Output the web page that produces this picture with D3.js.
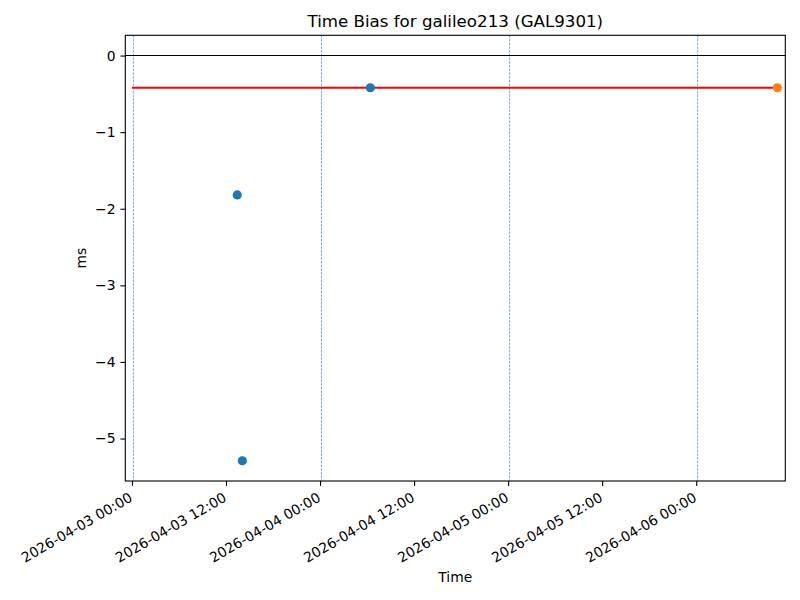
<!DOCTYPE html>
<html>
<head>
<meta charset="utf-8">
<script src="https://cdn.jsdelivr.net/npm/d3@7"></script>
<style>
  html, body { margin: 0; padding: 0; background: #fff; }
  svg { display: block; font-family: "DejaVu Sans", sans-serif; }
</style>
</head>
<body>
<svg id="chart" width="800" height="600"></svg>
<script>
// ---- data ----
const titleText = "Time Bias for galileo213 (GAL9301)";
const xLabel = "Time";
const yLabel = "ms";
const biasTimes = ["2026-04-03T13:26", "2026-04-03T14:05", "2026-04-04T06:25"];
const biasValues = [-1.82, -5.29, -0.42];
const latestTimes = ["2026-04-06T10:21"];
const latestValues = [-0.42];
const refLineTimes = ["2026-04-03T00:00", "2026-04-06T10:21"];
const refLineValue = -0.42;
const dayLineTimes = ["2026-04-03T00:11", "2026-04-04T00:11", "2026-04-05T00:11", "2026-04-06T00:11"];
const xTickTimes = ["2026-04-03T00:00", "2026-04-03T12:00", "2026-04-04T00:00", "2026-04-04T12:00",
                    "2026-04-05T00:00", "2026-04-05T12:00", "2026-04-06T00:00"];
const yTickValues = [0, -1, -2, -3, -4, -5];
const xDomainTimes = ["2026-04-02T23:09", "2026-04-06T11:22"];
const yDomainValues = [-5.5545, 0.2645];

// ---- setup ----
const parse = d3.utcParse("%Y-%m-%dT%H:%M");
const fmt = d3.utcFormat("%Y-%m-%d %H:%M");
const L = 125.3, R = 785.3, T = 35.3, B = 481;
const FONT = '"DejaVu Sans", sans-serif';
const svg = d3.select("#chart");
svg.append("rect").attr("width", 800).attr("height", 600).attr("fill", "#fff");

const x = d3.scaleUtc().domain(xDomainTimes.map(parse)).range([L, R]);
const y = d3.scaleLinear().domain(yDomainValues).range([B, T]);

const tickLen = 4.9, tickPad = 4.9, fs = 13.9;

// x axis
const xAxis = d3.axisBottom(x).tickValues(xTickTimes.map(parse)).tickFormat(fmt)
  .tickSize(tickLen).tickPadding(tickPad);
const gx = svg.append("g").attr("transform", `translate(0,${B})`).call(xAxis)
  .attr("font-family", FONT).attr("font-size", fs);
gx.select(".domain").remove();
gx.selectAll(".tick line").attr("stroke", "#000").attr("stroke-width", 1.1);
gx.selectAll(".tick text")
  .attr("font-size", fs).attr("fill", "#000")
  .attr("text-anchor", "end")
  .attr("dominant-baseline", "central")
  .attr("dy", null).attr("y", null)
  .attr("transform", "translate(-1.5,15) rotate(-30)");

// y axis
const yfmt = v => (v < 0 ? "\u2212" + Math.abs(v) : String(v));
const yAxis = d3.axisLeft(y).tickValues(yTickValues).tickFormat(yfmt)
  .tickSize(tickLen).tickPadding(tickPad);
const gy = svg.append("g").attr("transform", `translate(${L},0)`).call(yAxis)
  .attr("font-family", FONT).attr("font-size", fs);
gy.select(".domain").remove();
gy.selectAll(".tick line").attr("stroke", "#000").attr("stroke-width", 1.1);
gy.selectAll(".tick text").attr("font-size", fs).attr("fill", "#000");

// plot area clip
svg.append("clipPath").attr("id", "clip").append("rect")
  .attr("x", L).attr("y", T).attr("width", R - L).attr("height", B - T);
const plot = svg.append("g").attr("clip-path", "url(#clip)");

// day lines (dashed)
plot.selectAll("line.day").data(dayLineTimes.map(parse)).enter().append("line")
  .attr("class", "day")
  .attr("x1", d => x(d)).attr("x2", d => x(d))
  .attr("y1", T).attr("y2", B)
  .attr("stroke", "#3f7fb5").attr("stroke-opacity", 0.85)
  .attr("stroke-width", 0.8).attr("stroke-dasharray", "2.6,1.1");

// zero line
plot.append("line")
  .attr("x1", L).attr("x2", R).attr("y1", y(0)).attr("y2", y(0))
  .attr("stroke", "#000").attr("stroke-width", 1.1);

// reference line (red)
const refPts = refLineTimes.map(t => [parse(t), refLineValue]);
plot.append("path")
  .attr("d", d3.line().x(d => x(d[0])).y(d => y(d[1]))(refPts))
  .attr("stroke", "red").attr("stroke-width", 2.1).attr("fill", "none");

// bias points
plot.selectAll("circle.bias").data(biasTimes.map((t, i) => [parse(t), biasValues[i]])).enter()
  .append("circle").attr("class", "bias")
  .attr("cx", d => x(d[0])).attr("cy", d => y(d[1])).attr("r", 4.6)
  .attr("fill", "#1f77b4");

// latest points
plot.selectAll("circle.latest").data(latestTimes.map((t, i) => [parse(t), latestValues[i]])).enter()
  .append("circle").attr("class", "latest")
  .attr("cx", d => x(d[0])).attr("cy", d => y(d[1])).attr("r", 4.6)
  .attr("fill", "#ff7f0e");

// frame
svg.append("rect").attr("x", L).attr("y", T).attr("width", R - L).attr("height", B - T)
  .attr("fill", "none").attr("stroke", "#000").attr("stroke-width", 1.1);

// title & labels
svg.append("text").attr("x", (L + R) / 2).attr("y", 27).attr("text-anchor", "middle")
  .attr("font-size", 16.67).attr("fill", "#000").text(titleText);
svg.append("text").attr("x", (L + R) / 2).attr("y", 582).attr("text-anchor", "middle")
  .attr("font-size", fs).attr("fill", "#000").text(xLabel);
svg.append("text").attr("transform", `translate(86,${(T + B) / 2}) rotate(-90)`)
  .attr("text-anchor", "middle").attr("font-size", fs).attr("fill", "#000").text(yLabel);
</script>
</body>
</html>
